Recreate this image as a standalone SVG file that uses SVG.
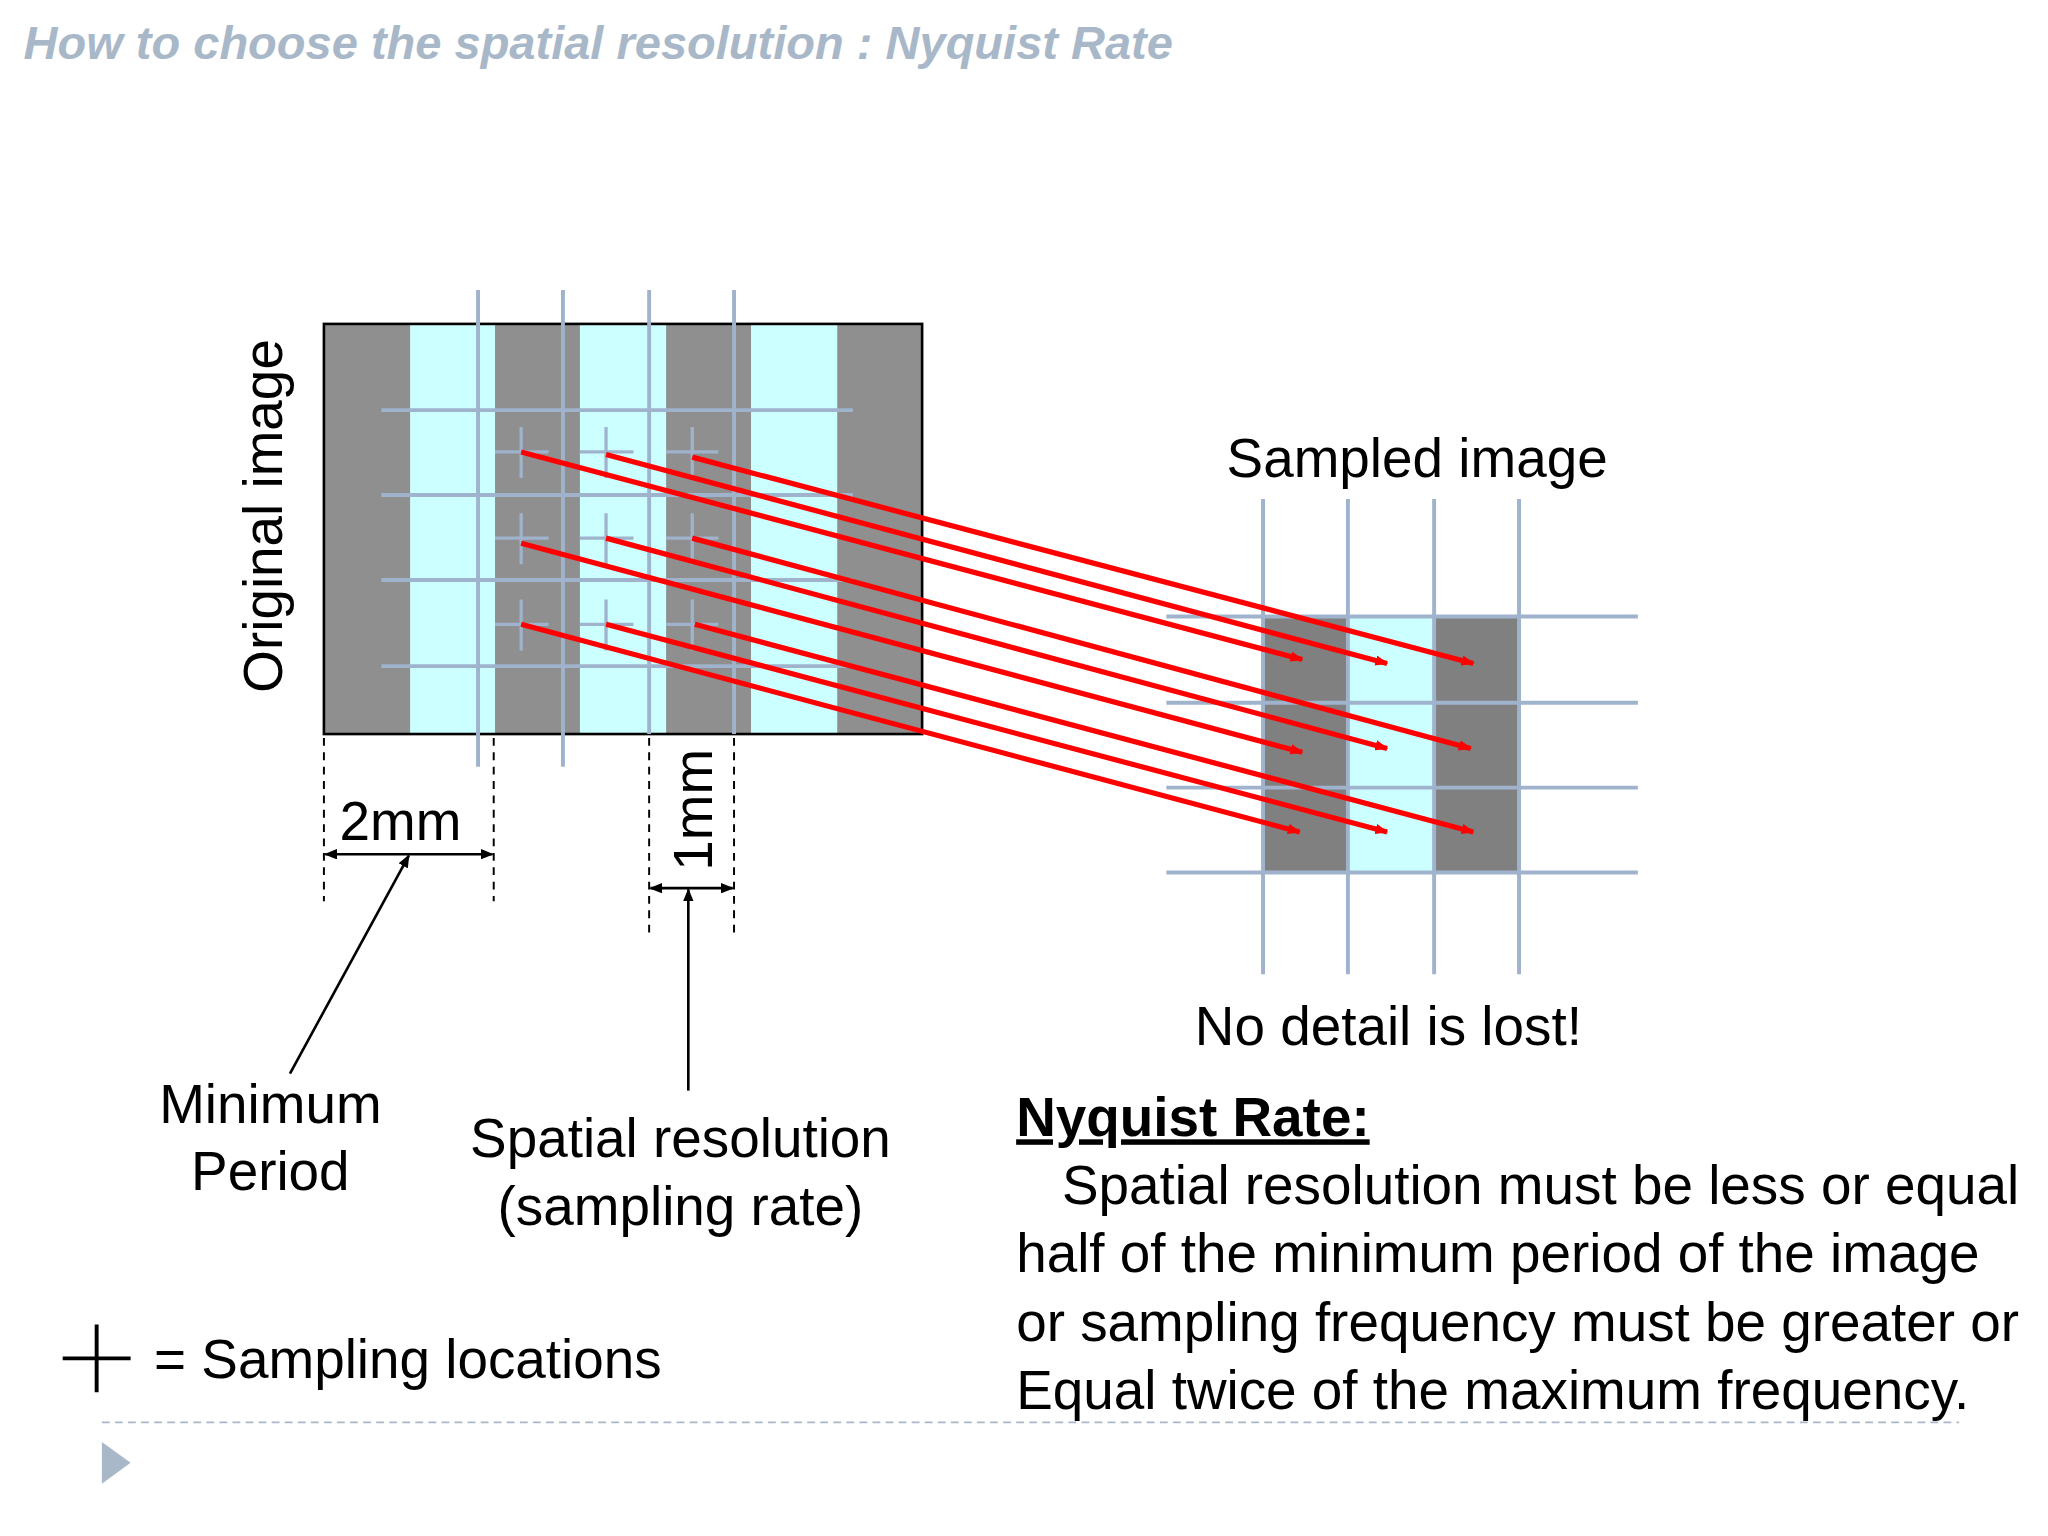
<svg xmlns="http://www.w3.org/2000/svg" width="2048" height="1536" viewBox="0 0 2048 1536">
<defs>
<style>
.t{font-family:"Liberation Sans",Arial,sans-serif;font-size:42px;fill:#000}
.g{stroke:#9fb4cc;stroke-width:3;fill:none}
.r{stroke:#ff0000;stroke-width:4;marker-end:url(#ra)}
.k{stroke:#000;stroke-width:2;fill:none}
.d{stroke:#000;stroke-width:1.5;stroke-dasharray:6,5}
.c{stroke:#9fb4cc;stroke-width:2.5}
</style>
<marker id="ra" markerWidth="10" markerHeight="8" refX="9" refY="4" orient="auto" markerUnits="userSpaceOnUse" viewBox="0 0 10 8"><path d="M0,0L10,4L0,8z" fill="#ff0000"/></marker>
<marker id="ka" markerWidth="10" markerHeight="8" refX="9" refY="4" orient="auto-start-reverse" markerUnits="userSpaceOnUse" viewBox="0 0 10 8"><path d="M0,0L10,4L0,8z" fill="#000"/></marker>
</defs>
<rect width="2048" height="1536" fill="#fff"/>
<g transform="scale(1.30612)">
<text x="18" y="45" style="font-family:'Liberation Sans',Arial,sans-serif;font-size:36px;font-style:italic;font-weight:bold;fill:#a9b8c8">How to choose the spatial resolution : Nyquist Rate</text>
<g id="original">
<rect x="248" y="248" width="458" height="314" fill="#8f8f8f"/>
<rect x="314" y="248" width="65" height="314" fill="#ccffff"/>
<rect x="444" y="248" width="66" height="314" fill="#ccffff"/>
<rect x="575" y="248" width="66" height="314" fill="#ccffff"/>
<rect x="248" y="248" width="458" height="314" fill="none" stroke="#000" stroke-width="2"/>
<path class="g" d="M366,222V587M431,222V587M497,222V562M562,222V562M292,314H653M292,379H653M292,444H653M292,510H653"/>
<path class="c" d="M379,346H420M399,327V366M444,346H485M464,327V366M510,346H550M530,327V366M379,412H420M399,393V432M444,412H485M464,393V432M510,412H550M530,393V432M379,478H420M399,459V498M444,478H485M464,459V498M510,478H550M530,459V498"/>
<text class="t" transform="translate(216,395) rotate(-90)" text-anchor="middle">Original image</text>
</g>
<g id="sampled">
<rect x="967" y="472" width="196" height="196" fill="#808080"/>
<rect x="1032" y="472" width="66" height="196" fill="#ccffff"/>
<path class="g" d="M967,382V746M1032,382V746M1098,382V746M1163,382V746M893,472H1254M893,538H1254M893,603H1254M893,668H1254"/>
<text class="t" x="1085" y="365" text-anchor="middle">Sampled image</text>
<text class="t" x="1063" y="800" text-anchor="middle">No detail is lost!</text>
</g>
<g id="connectors">
<line class="r" x1="399" y1="346" x2="997" y2="505"/>
<line class="r" x1="464" y1="348" x2="1062" y2="508"/>
<line class="r" x1="530" y1="350" x2="1128" y2="508"/>
<line class="r" x1="399" y1="416" x2="997" y2="576"/>
<line class="r" x1="464" y1="412" x2="1062" y2="573"/>
<line class="r" x1="530" y1="412" x2="1126" y2="573"/>
<line class="r" x1="399" y1="478" x2="995" y2="637"/>
<line class="r" x1="464" y1="478" x2="1062" y2="637"/>
<line class="r" x1="532" y1="478" x2="1128" y2="637"/>
<line class="d" x1="248" y1="565" x2="248" y2="690"/>
<line class="d" x1="378" y1="565" x2="378" y2="690"/>
<line class="d" x1="497" y1="565" x2="497" y2="715"/>
<line class="d" x1="562" y1="565" x2="562" y2="715"/>
<line class="k" x1="249" y1="654" x2="377" y2="654" marker-start="url(#ka)" marker-end="url(#ka)"/>
<line class="k" x1="498" y1="680" x2="561" y2="680" marker-start="url(#ka)" marker-end="url(#ka)"/>
<line class="k" x1="222" y1="822" x2="313" y2="655" marker-end="url(#ka)"/>
<line class="k" x1="527" y1="835" x2="527" y2="681" marker-end="url(#ka)"/>
</g>
<g id="labels">
<text class="t" x="260" y="643">2mm</text>
<text class="t" transform="translate(545,620) rotate(-90)" text-anchor="middle">1mm</text>
<text class="t" x="207" y="860" text-anchor="middle">Minimum</text>
<text class="t" x="207" y="911" text-anchor="middle">Period</text>
<text class="t" x="521" y="886" text-anchor="middle">Spatial resolution</text>
<text class="t" x="521" y="938" text-anchor="middle">(sampling rate)</text>
<text class="t" x="778" y="870" font-weight="bold" text-decoration="underline">Nyquist Rate:</text>
<text class="t" x="813" y="922">Spatial resolution must be less or equal</text>
<text class="t" x="778" y="974">half of the minimum period of the image</text>
<text class="t" x="778" y="1027">or sampling frequency must be greater or</text>
<text class="t" x="778" y="1079">Equal twice of the maximum frequency.</text>
</g>
<g id="legend">
<path d="M48,1040H100M74,1014V1066" stroke="#000" stroke-width="3"/>
<text class="t" x="118" y="1055">= Sampling locations</text>
</g>
<line x1="78" y1="1089" x2="1500" y2="1089" stroke="#a9b8c8" stroke-width="1.5" stroke-dasharray="6,4"/>
<path d="M78,1104L100,1120L78,1136z" fill="#a9b8c8"/>
</g>
</svg>
